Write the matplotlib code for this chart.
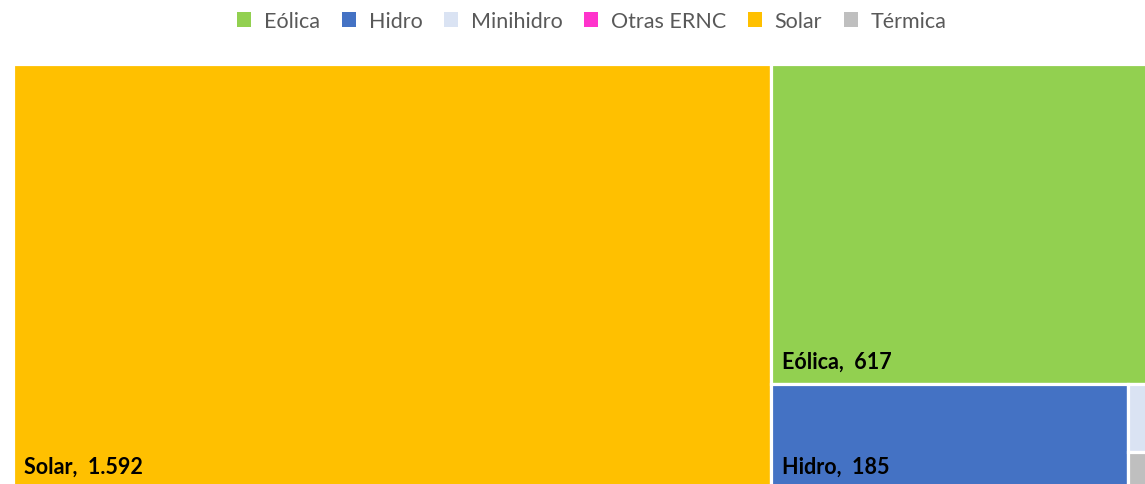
import matplotlib.pyplot as plt
from matplotlib.patches import Rectangle, Patch

# capacity by technology (the treemap is cropped at right and bottom in the reference)
categories = ["Eólica", "Hidro", "Minihidro", "Otras ERNC", "Solar", "Térmica"]
values = [617, 185, 11, 0.4, 1592, 5.6]
colors = ["#92D050", "#4472C4", "#DAE3F3", "#FF33CC", "#FFC000", "#BFBFBF"]

val = dict(zip(categories, values))
col = dict(zip(categories, colors))


def layout(x0, y0, w, h):
    # slice-and-dice like Excel: Solar column, then Eólica on top, Hidro + small ones below
    total = sum(values)
    rects = {}
    ws = w * val["Solar"] / total
    rects["Solar"] = (x0, y0, ws, h)
    xr, wr = x0 + ws, w - ws
    rest = total - val["Solar"]
    he = h * val["Eólica"] / rest
    rects["Eólica"] = (xr, y0, wr, he)
    yb, hb = y0 + he, h - he
    bottom = rest - val["Eólica"]
    wh = wr * val["Hidro"] / bottom
    rects["Hidro"] = (xr, yb, wh, hb)
    xs, wsm = xr + wh, wr - wh
    small = ["Minihidro", "Térmica", "Otras ERNC"]
    ssum = sum(val[c] for c in small)
    y = yb
    for c in small:
        hh = hb * val[c] / ssum
        rects[c] = (xs, y, wsm, hh)
        y += hh
    return rects


fig = plt.figure(figsize=(11.45, 4.85), dpi=100)
ax = fig.add_axes([0, 0, 1, 1])
ax.set_xlim(0, 1145)
ax.set_ylim(485, 0)
ax.axis("off")

rects = layout(12.5, 64.5, 1148, 426)
for c, (x, y, w, h) in rects.items():
    ax.add_patch(Rectangle((x, y), w, h, facecolor=col[c], edgecolor="white", linewidth=2.3))
    if w > 100:
        label = f"{c},  " + f"{val[c]:,}".replace(",", ".")
        ax.text(x + 11, y + h - 23, label, fontsize=15.5, fontweight="bold",
                family="Lato", color="black", va="center", ha="left")

handles = [Patch(facecolor=col[c], edgecolor="none") for c in categories]
fig.legend(handles, categories, loc="upper center", bbox_to_anchor=(0.517, 1.015),
           ncol=6, frameon=False, prop={"family": "Lato", "size": 15.5},
           labelcolor="#595959", handlelength=0.65, handleheight=0.65,
           handletextpad=0.6, columnspacing=1.0)

fig.savefig("out.png", dpi=100)
